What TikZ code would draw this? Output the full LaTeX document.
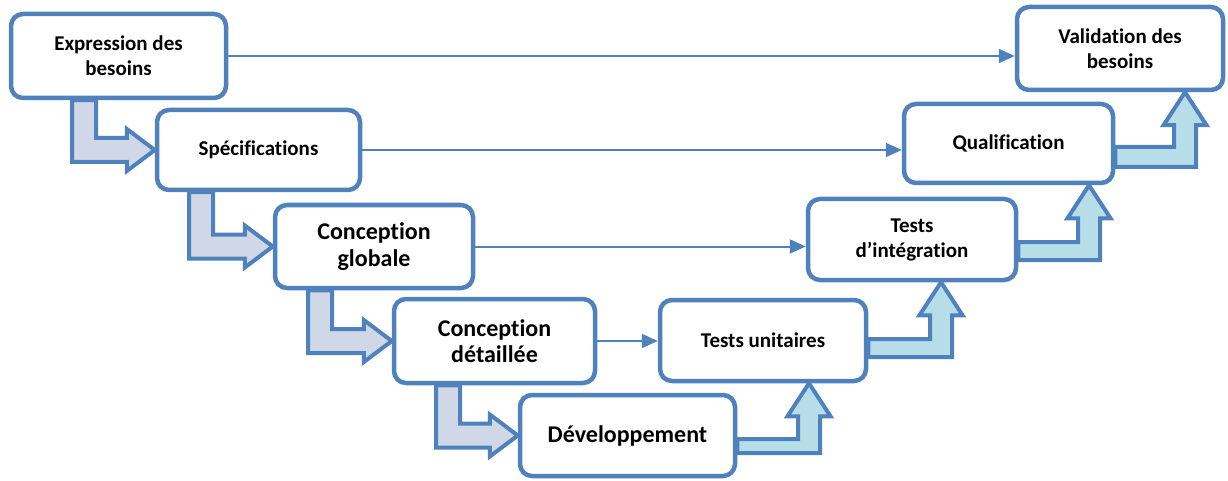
\documentclass[tikz,border=0pt]{standalone}
\usepackage{fontspec}
\setmainfont{Carlito}[Ligatures={NoCommon}]
\usetikzlibrary{arrows.meta,calc}
\definecolor{vblue}{HTML}{4F81BD}
\definecolor{lfill}{HTML}{D0D8E8}
\definecolor{rfill}{HTML}{B7DEE8}
\pgfdeclarelayer{bg}
\pgfsetlayers{bg,main}
\newcommand\larrow[3]{%
 \coordinate (la) at (#3,0);
 \coordinate (lb) at (#3+24,0);
 \draw[larr] (#1.south -| la) -- ($(#2.west -| la)+(0,12)$) -- ($(#2.west)+(-28,12)$) -- ($(#2.west)+(-28,21)$) -- (#2.west) -- ($(#2.west)+(-28,-21)$) -- ($(#2.west)+(-28,-12)$) -- ($(#2.west -| lb)+(0,-12)$) -- (#1.south -| lb) -- cycle;}
\newcommand\rarrow[5]{%
 \coordinate (ra) at (#3,#4);
 \coordinate (rb) at (#3+22,#5);
 \coordinate (rt) at (#3+11,0);
 \draw[rarr] (#1.east |- ra) -- (ra) -- ($(#2.south -| ra)+(0,33)$) -- ($(#2.south -| ra)+(-10.5,33)$) -- (#2.south -| rt) -- ($(#2.south -| rb)+(10.5,33)$) -- ($(#2.south -| rb)+(0,33)$) -- (rb) -- (#1.east |- rb) -- cycle;}
\begin{document}
\begin{tikzpicture}[x=1pt,y=-1pt,
 box/.style={draw=vblue, line width=4.5pt, rounded corners=12pt, fill=white, align=center, inner sep=0pt, font=\bfseries\fontsize{21}{25}\selectfont},
 big/.style={font=\bfseries\fontsize{24}{26.5}\selectfont},
 thinarr/.style={draw=vblue, line width=2pt, -{Triangle[length=16pt,width=14pt]}},
 larr/.style={draw=vblue, line width=4pt, fill=lfill, line join=miter},
 rarr/.style={draw=vblue, line width=4pt, fill=rfill, line join=miter}]
\useasboundingbox (0,0) rectangle (1228,481);
\node[box, minimum width=215pt, minimum height=84pt] (b1) at (118.5,56) {Expression des\\besoins};
\node[box, minimum width=203pt, minimum height=80pt] (b2) at (258.5,150) {Spécifications};
\node[box, big, minimum width=198pt, minimum height=83pt] (b3) at (374,246.5) {Conception\\globale};
\node[box, big, minimum width=201pt, minimum height=84pt] (b4) at (494.5,341) {Conception\\détaillée};
\node[box, big, minimum width=215pt, minimum height=81pt] (b5) at (627.5,435.5) {Développement};
\node[box, minimum width=206pt, minimum height=81pt] (b6) at (763,340.5) {Tests unitaires};
\node[box, minimum width=208pt, minimum height=81pt] (b7) at (912,239.5) {Tests\\d’intégration};
\node[box, minimum width=209pt, minimum height=79pt] (b8) at (1008.5,143.5) {Qualification};
\node[box, minimum width=206pt, minimum height=83pt] (b9) at (1120,48.5) {Validation des\\besoins};
\begin{pgfonlayer}{bg}
\larrow{b1}{b2}{72}
\larrow{b2}{b3}{189}
\larrow{b3}{b4}{308}
\larrow{b4}{b5}{436}
\rarrow{b5}{b6}{798}{439}{453}
\rarrow{b6}{b7}{930}{339}{357}
\rarrow{b7}{b8}{1078}{242}{260}
\rarrow{b8}{b9}{1174}{147}{167}
\end{pgfonlayer}
\draw[thinarr] (b1.east) -- (b1.east -| b9.west);
\draw[thinarr] (b2.east) -- (b2.east -| b8.west);
\draw[thinarr] (b3.east) -- (b3.east -| b7.west);
\draw[thinarr] (b4.east) -- (b4.east -| b6.west);
\end{tikzpicture}
\end{document}
